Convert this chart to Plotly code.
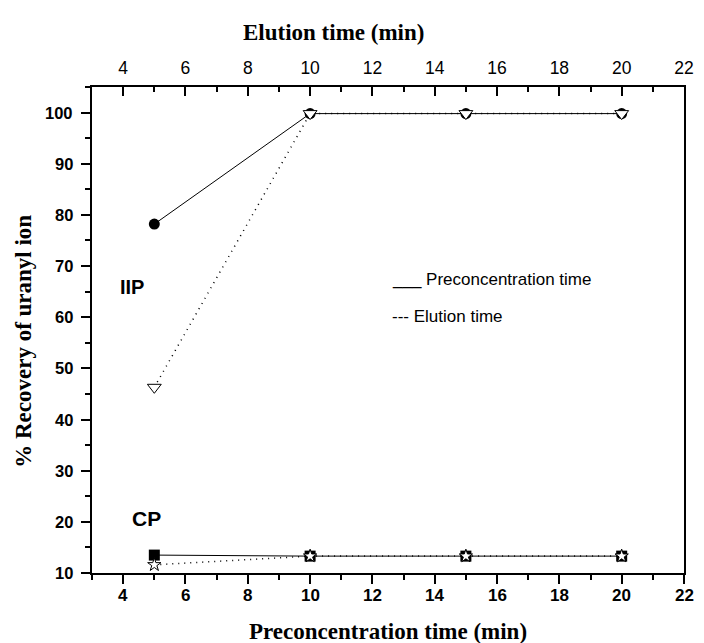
import plotly.graph_objects as go

# ---- data ----
time_min = [5, 10, 15, 20]
iip_preconc = [78.2, 99.8, 99.8, 99.8]
iip_elution = [46.3, 99.8, 99.8, 99.8]
cp_preconc = [13.5, 13.3, 13.3, 13.3]
cp_elution = [11.6, 13.3, 13.3, 13.3]

x_ticks = [4, 6, 8, 10, 12, 14, 16, 18, 20, 22]
y_ticks = [10, 20, 30, 40, 50, 60, 70, 80, 90, 100]

SANS = "Liberation Sans, Arial, sans-serif"
SERIF = "Liberation Serif, Times New Roman, serif"

fig = go.Figure()

# preconcentration time (bottom axis, solid)
fig.add_trace(go.Scatter(x=time_min, y=iip_preconc, mode="lines+markers",
                         line=dict(color="black", width=1),
                         marker=dict(symbol="circle", size=11, color="black"),
                         xaxis="x", yaxis="y"))
fig.add_trace(go.Scatter(x=time_min, y=cp_preconc, mode="lines+markers",
                         line=dict(color="black", width=1),
                         marker=dict(symbol="square", size=11, color="black"),
                         xaxis="x", yaxis="y"))
# elution time (top axis, dotted)
fig.add_trace(go.Scatter(x=time_min, y=iip_elution, mode="lines+markers",
                         line=dict(color="black", width=1.5, dash="1px,5px"),
                         marker=dict(symbol="triangle-down", size=12, color="white",
                                     line=dict(color="black", width=1)),
                         xaxis="x2", yaxis="y"))
fig.add_trace(go.Scatter(x=time_min, y=cp_elution, mode="lines+markers",
                         line=dict(color="black", width=1.5, dash="1px,5px"),
                         marker=dict(symbol="star", size=10, color="white",
                                     line=dict(color="black", width=1)),
                         xaxis="x2", yaxis="y"))

fig.update_layout(
    width=704, height=643,
    margin=dict(l=92, r=10, t=87, b=70),
    paper_bgcolor="white", plot_bgcolor="white",
    showlegend=False,
    xaxis=dict(range=[3, 22], tickvals=x_ticks, showticklabels=False,
               ticks="outside", ticklen=9, tickwidth=1.5,
               tickcolor="black", showline=True, linecolor="black", linewidth=2,
               showgrid=False, zeroline=False,
               minor=dict(dtick=1, tick0=3, ticks="outside", ticklen=5, tickwidth=1.5,
                          tickcolor="black")),
    xaxis2=dict(range=[3, 22], tickvals=x_ticks, overlaying="x", side="top",
                anchor="y", ticks="inside", ticklen=9, tickwidth=1.5, tickcolor="black",
                showline=True, linecolor="black", linewidth=2, showgrid=False,
                zeroline=False, ticklabelstandoff=4,
                tickfont=dict(family=SANS, size=17.5, color="black"),
                minor=dict(dtick=1, tick0=3, ticks="inside", ticklen=5, tickwidth=1.5,
                           tickcolor="black")),
    yaxis=dict(range=[10, 105], tickvals=y_ticks, showticklabels=False,
               ticks="outside", ticklen=9, tickwidth=1.5,
               tickcolor="black", showline=True, linecolor="black", linewidth=2,
               mirror=True, showgrid=False, zeroline=False,
               minor=dict(dtick=5, tick0=10, ticks="outside", ticklen=5, tickwidth=1.5,
                          tickcolor="black")),
)

BOLD_SANS_X = dict(family=SANS, size=17, color="black", weight="bold")
BOLD_SANS_Y = dict(family=SANS, size=16.5, color="black", weight="bold")

annots = []
# bottom tick labels (bold)
for v in x_ticks:
    annots.append(dict(text=str(v), xref="x", yref="paper", x=v, y=-0.0473,
                       font=BOLD_SANS_X))
# left tick labels (bold)
for v in y_ticks:
    annots.append(dict(text=str(v), xref="paper", yref="y", x=-0.0282, y=v,
                       xanchor="right", font=BOLD_SANS_Y))

annots += [
    dict(text="Elution time (min)", xref="paper", yref="paper", x=0.4086, y=1.113,
         font=dict(family=SERIF, size=23, color="black", weight="bold")),
    dict(text="Preconcentration time (min)", xref="paper", yref="paper", x=0.5, y=-0.121,
         font=dict(family=SERIF, size=23, color="black", weight="bold")),
    dict(text="% Recovery of uranyl ion", xref="paper", yref="paper", x=-0.1155, y=0.477,
         textangle=-90,
         font=dict(family=SERIF, size=23, color="black", weight="bold")),
    dict(text="IIP", xref="x", yref="y", x=4.28, y=66.0,
         font=dict(family=SANS, size=20, color="black", weight="bold")),
    dict(text="CP", xref="x", yref="y", x=4.76, y=20.7,
         font=dict(family=SANS, size=21, color="black", weight="bold")),
    dict(text="___ Preconcentration time", xref="x", yref="y", x=12.57, y=67.4,
         xanchor="left", font=dict(family=SANS, size=17, color="black")),
    dict(text="--- Elution time", xref="x", yref="y", x=12.57, y=60.2,
         xanchor="left", font=dict(family=SANS, size=17, color="black")),
]
for a in annots:
    a.setdefault("xanchor", "center")
    a["yanchor"] = "middle"
    a["showarrow"] = False
    fig.add_annotation(**a)

fig.write_html("out.html")
